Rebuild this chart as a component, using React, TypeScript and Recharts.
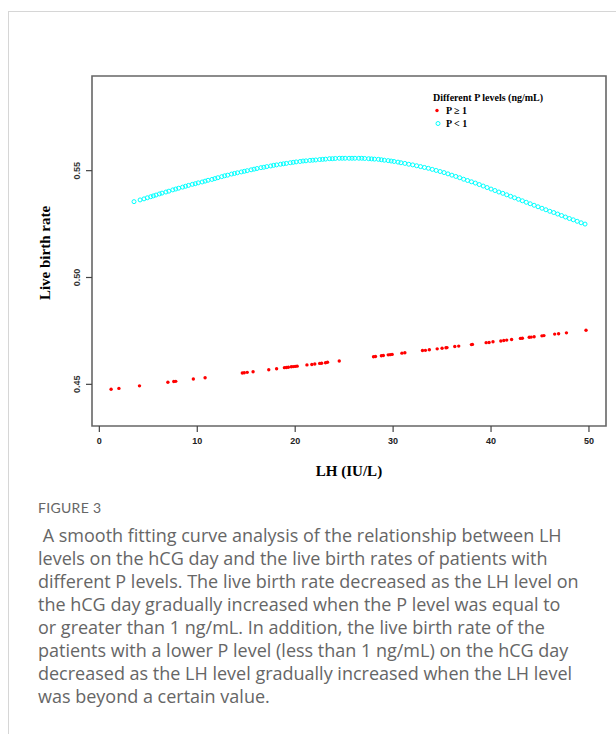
import React from "react";
import {
  ScatterChart,
  Scatter,
  XAxis,
  YAxis,
  ReferenceArea,
} from "recharts";

// LH (IU/L) and fitted live birth rate, P >= 1 ng/mL
const lhHigh = [
  1.2, 2.0, 4.1, 7.0, 7.6, 7.8, 9.6, 10.8, 14.6, 14.8, 15.1, 15.7, 17.3, 18.1,
  18.9, 19.1, 19.3, 19.6, 19.8, 20.0, 20.2, 21.2, 21.7, 22.0, 22.5, 22.7, 23.1,
  23.3, 24.5, 28.0, 28.2, 28.8, 29.0, 29.5, 29.7, 29.9, 30.9, 31.2, 33.0, 33.3,
  33.7, 34.5, 35.0, 35.4, 35.5, 36.3, 36.7, 38.0, 38.1, 39.5, 39.8, 40.2, 41.0,
  41.3, 41.6, 42.1, 43.0, 43.2, 43.9, 44.1, 44.4, 45.2, 45.4, 46.5, 46.9, 47.7,
  49.7,
];
const rateHigh = [
  0.4477, 0.4481, 0.4493, 0.451, 0.4513, 0.4514, 0.4525, 0.4531, 0.4553, 0.4554,
  0.4556, 0.4559, 0.4568, 0.4573, 0.4578, 0.4579, 0.458, 0.4582, 0.4583, 0.4584,
  0.4585, 0.4591, 0.4593, 0.4595, 0.4598, 0.4599, 0.4601, 0.4603, 0.4609,
  0.4629, 0.463, 0.4634, 0.4635, 0.4638, 0.4639, 0.464, 0.4646, 0.4648, 0.4658,
  0.4659, 0.4662, 0.4666, 0.4669, 0.4671, 0.4672, 0.4677, 0.4679, 0.4686,
  0.4687, 0.4695, 0.4696, 0.4699, 0.4703, 0.4705, 0.4707, 0.471, 0.4715,
  0.4716, 0.472, 0.4721, 0.4723, 0.4727, 0.4728, 0.4735, 0.4737, 0.4741,
  0.4753,
];

// P < 1 ng/mL
const lhLow = [
  3.54, 4.16, 4.56, 4.9, 5.25, 5.52, 5.79, 6.13, 6.4, 6.8, 7.1, 7.5, 7.8, 8.1,
  8.5, 8.8, 9.1, 9.5, 9.8, 10.1, 10.5, 10.8, 11.1, 11.5, 11.8, 12.1, 12.5, 12.8,
  13.1, 13.5, 13.8, 14.1, 14.5, 14.8, 15.1, 15.5, 15.8, 16.1, 16.5, 16.8, 17.1,
  17.5, 17.8, 18.1, 18.5, 18.8, 19.1, 19.5, 19.8, 20.1, 20.5, 20.8, 21.1, 21.5,
  21.8, 22.1, 22.5, 22.8, 23.1, 23.5, 23.8, 24.1, 24.5, 24.8, 25.1, 25.5, 25.8,
  26.1, 26.5, 26.8, 27.1, 27.5, 27.8, 28.1, 28.5, 28.8, 29.1, 29.5, 29.8, 30.1,
  30.5, 30.8, 31.2, 31.6, 32.0, 32.4, 32.8, 33.2, 33.6, 34.0, 34.4, 34.8, 35.2,
  35.6, 36.0, 36.4, 36.8, 37.2, 37.6, 38.0, 38.4, 38.8, 39.2, 39.6, 40.0, 40.4,
  40.8, 41.2, 41.6, 42.0, 42.4, 42.8, 43.2, 43.6, 44.0, 44.4, 44.8, 45.2, 45.6,
  46.0, 46.4, 46.8, 47.2, 47.6, 48.0, 48.4, 48.8, 49.2, 49.6,
];
const rateLow = [
  0.5355, 0.5363, 0.5368, 0.5373, 0.5378, 0.5382, 0.5386, 0.5391, 0.5395,
  0.54, 0.5404, 0.541, 0.5414, 0.5418, 0.5423, 0.5427, 0.5431, 0.5436, 0.5439,
  0.5443, 0.5447, 0.5451, 0.5455, 0.5459, 0.5463, 0.5467, 0.5472, 0.5476,
  0.5479, 0.5484, 0.5487, 0.549, 0.5494, 0.5497, 0.55, 0.5504, 0.5507, 0.551,
  0.5514, 0.5516, 0.5519, 0.5522, 0.5525, 0.5527, 0.553, 0.5532, 0.5534,
  0.5537, 0.5539, 0.5541, 0.5543, 0.5545, 0.5546, 0.5548, 0.5549, 0.555,
  0.5552, 0.5553, 0.5554, 0.5556, 0.5556, 0.5557, 0.5558, 0.5558, 0.5558,
  0.5558, 0.5558, 0.5558, 0.5558, 0.5558, 0.5557, 0.5556, 0.5555, 0.5554,
  0.5553, 0.5551, 0.5549, 0.5547, 0.5545, 0.5543, 0.554, 0.5537, 0.5534, 0.553,
  0.5527, 0.5523, 0.5519, 0.5515, 0.5511, 0.5506, 0.5501, 0.5496, 0.5491,
  0.5485, 0.5479, 0.5473, 0.5467, 0.546, 0.5454, 0.5448, 0.5442, 0.5435,
  0.5428, 0.5421, 0.5414, 0.5407, 0.54, 0.5394, 0.5387, 0.538, 0.5373, 0.5366,
  0.5359, 0.5352, 0.5345, 0.5338, 0.5331, 0.5324, 0.5317, 0.531, 0.5304,
  0.5297, 0.529, 0.5283, 0.5276, 0.527, 0.5263, 0.5256, 0.525,
];

const xTicks = [0, 10, 20, 30, 40, 50];
const yTicks = [0.45, 0.5, 0.55];

const captionLines = [
  " A smooth fitting curve analysis of the relationship between LH",
  "levels on the hCG day and the live birth rates of patients with",
  "different P levels. The live birth rate decreased as the LH level on",
  "the hCG day gradually increased when the P level was equal to",
  "or greater than 1 ng/mL. In addition, the live birth rate of the",
  "patients with a lower P level (less than 1 ng/mL) on the hCG day",
  "decreased as the LH level gradually increased when the LH level",
  "was beyond a certain value.",
];

const X_DOMAIN: [number, number] = [-0.75, 51.74];
const Y_DOMAIN: [number, number] = [0.4305, 0.5943];

const serif = '"Liberation Serif", "Times New Roman", serif';
const sans = '"Liberation Sans", Arial, sans-serif';

const highData = lhHigh.map((lh, i) => ({ lh, rate: rateHigh[i] }));
const lowData = lhLow.map((lh, i) => ({ lh, rate: rateLow[i] }));

const RedDot = (props: any) => (
  <circle cx={props.cx} cy={props.cy} r={1.7} fill="#ff0000" />
);
const CyanRing = (props: any) => (
  <circle
    cx={props.cx}
    cy={props.cy}
    r={2}
    fill="none"
    stroke="#00ffff"
    strokeWidth={1}
  />
);

const XTick = (props: any) => (
  <text
    x={props.x}
    y={441}
    textAnchor="middle"
    dominantBaseline="central"
    fontFamily={sans}
    fontSize={9}
    fontWeight="bold"
    fill="#222"
  >
    {props.payload.value}
  </text>
);

const YTick = (props: any) => (
  <text
    x={77}
    y={props.y}
    transform={`rotate(-90 77 ${props.y})`}
    textAnchor="middle"
    dominantBaseline="central"
    fontFamily={sans}
    fontSize={9}
    fontWeight="bold"
    fill="#333"
  >
    {Number(props.payload.value).toFixed(2)}
  </text>
);

export default function App() {
  return (
    <div
      style={{
        position: "absolute",
        left: 0,
        top: 0,
        width: 616,
        height: 734,
        background: "#fff",
        overflow: "hidden",
      }}
    >
      {/* page frame */}
      <div
        style={{
          position: "absolute",
          left: 8,
          top: 11,
          width: 620,
          height: 740,
          borderTop: "1px solid #d6d6d6",
          borderLeft: "1px solid #d6d6d6",
        }}
      />

      <div style={{ position: "absolute", left: 0, top: 0 }}>
        <ScatterChart
          width={616}
          height={480}
          margin={{ top: 76, right: 10, left: 52, bottom: 24 }}
        >
          <XAxis
            type="number"
            dataKey="lh"
            domain={X_DOMAIN}
            ticks={xTicks}
            allowDataOverflow
            axisLine={false}
            tickLine={{ stroke: "#444", strokeWidth: 1.2 }}
            tickSize={6}
            height={30}
            tick={<XTick />}
          />
          <YAxis
            type="number"
            dataKey="rate"
            domain={Y_DOMAIN}
            ticks={yTicks}
            allowDataOverflow
            axisLine={false}
            tickLine={{ stroke: "#444", strokeWidth: 1.2 }}
            tickSize={6}
            width={40}
            tick={<YTick />}
          />
          <ReferenceArea
            x1={X_DOMAIN[0]}
            x2={X_DOMAIN[1]}
            y1={Y_DOMAIN[0]}
            y2={Y_DOMAIN[1]}
            fill="none"
            stroke="#666"
            strokeWidth={1.6}
          />
          <Scatter
            data={highData}
            shape={<RedDot />}
            isAnimationActive={false}
          />
          <Scatter
            data={lowData}
            shape={<CyanRing />}
            isAnimationActive={false}
          />
        </ScatterChart>
      </div>

      {/* legend */}
      <div
        style={{
          position: "absolute",
          left: 433,
          top: 91,
          fontFamily: serif,
          fontWeight: "bold",
          fontSize: 10,
          color: "#000",
          lineHeight: "13px",
        }}
      >
        <div>Different P levels (ng/mL)</div>
        <div style={{ display: "flex", alignItems: "center" }}>
          <svg width={13} height={13}>
            <circle cx={4} cy={6.5} r={1.7} fill="#ff0000" />
          </svg>
          <span>P ≥ 1</span>
        </div>
        <div style={{ display: "flex", alignItems: "center" }}>
          <svg width={13} height={13}>
            <circle
              cx={5}
              cy={6.5}
              r={2}
              fill="none"
              stroke="#00ffff"
              strokeWidth={1}
            />
          </svg>
          <span>P &lt; 1</span>
        </div>
      </div>

      {/* axis titles */}
      <div
        style={{
          position: "absolute",
          left: 45,
          top: 253,
          transform: "translate(-50%, -50%) rotate(-90deg)",
          fontFamily: serif,
          fontWeight: "bold",
          fontSize: 15,
          whiteSpace: "nowrap",
        }}
      >
        Live birth rate
      </div>
      <div
        style={{
          position: "absolute",
          left: 349,
          top: 471,
          transform: "translate(-50%, -50%)",
          fontFamily: serif,
          fontWeight: "bold",
          fontSize: 15,
          whiteSpace: "nowrap",
        }}
      >
        LH (IU/L)
      </div>

      {/* caption */}
      <div
        style={{
          position: "absolute",
          left: 38,
          top: 499,
          color: "#666",
        }}
      >
        <div
          style={{
            fontFamily: "Lato, sans-serif",
            fontSize: 14,
            lineHeight: "18px",
            letterSpacing: 0.3,
          }}
        >
          FIGURE 3
        </div>
        <div
          style={{
            marginTop: 7,
            fontFamily: '"Open Sans", sans-serif',
            fontSize: 18,
            lineHeight: "23px",
          }}
        >
          {captionLines.map((line) => (
            <div key={line} style={{ whiteSpace: "pre" }}>
              {line}
            </div>
          ))}
        </div>
      </div>
    </div>
  );
}
